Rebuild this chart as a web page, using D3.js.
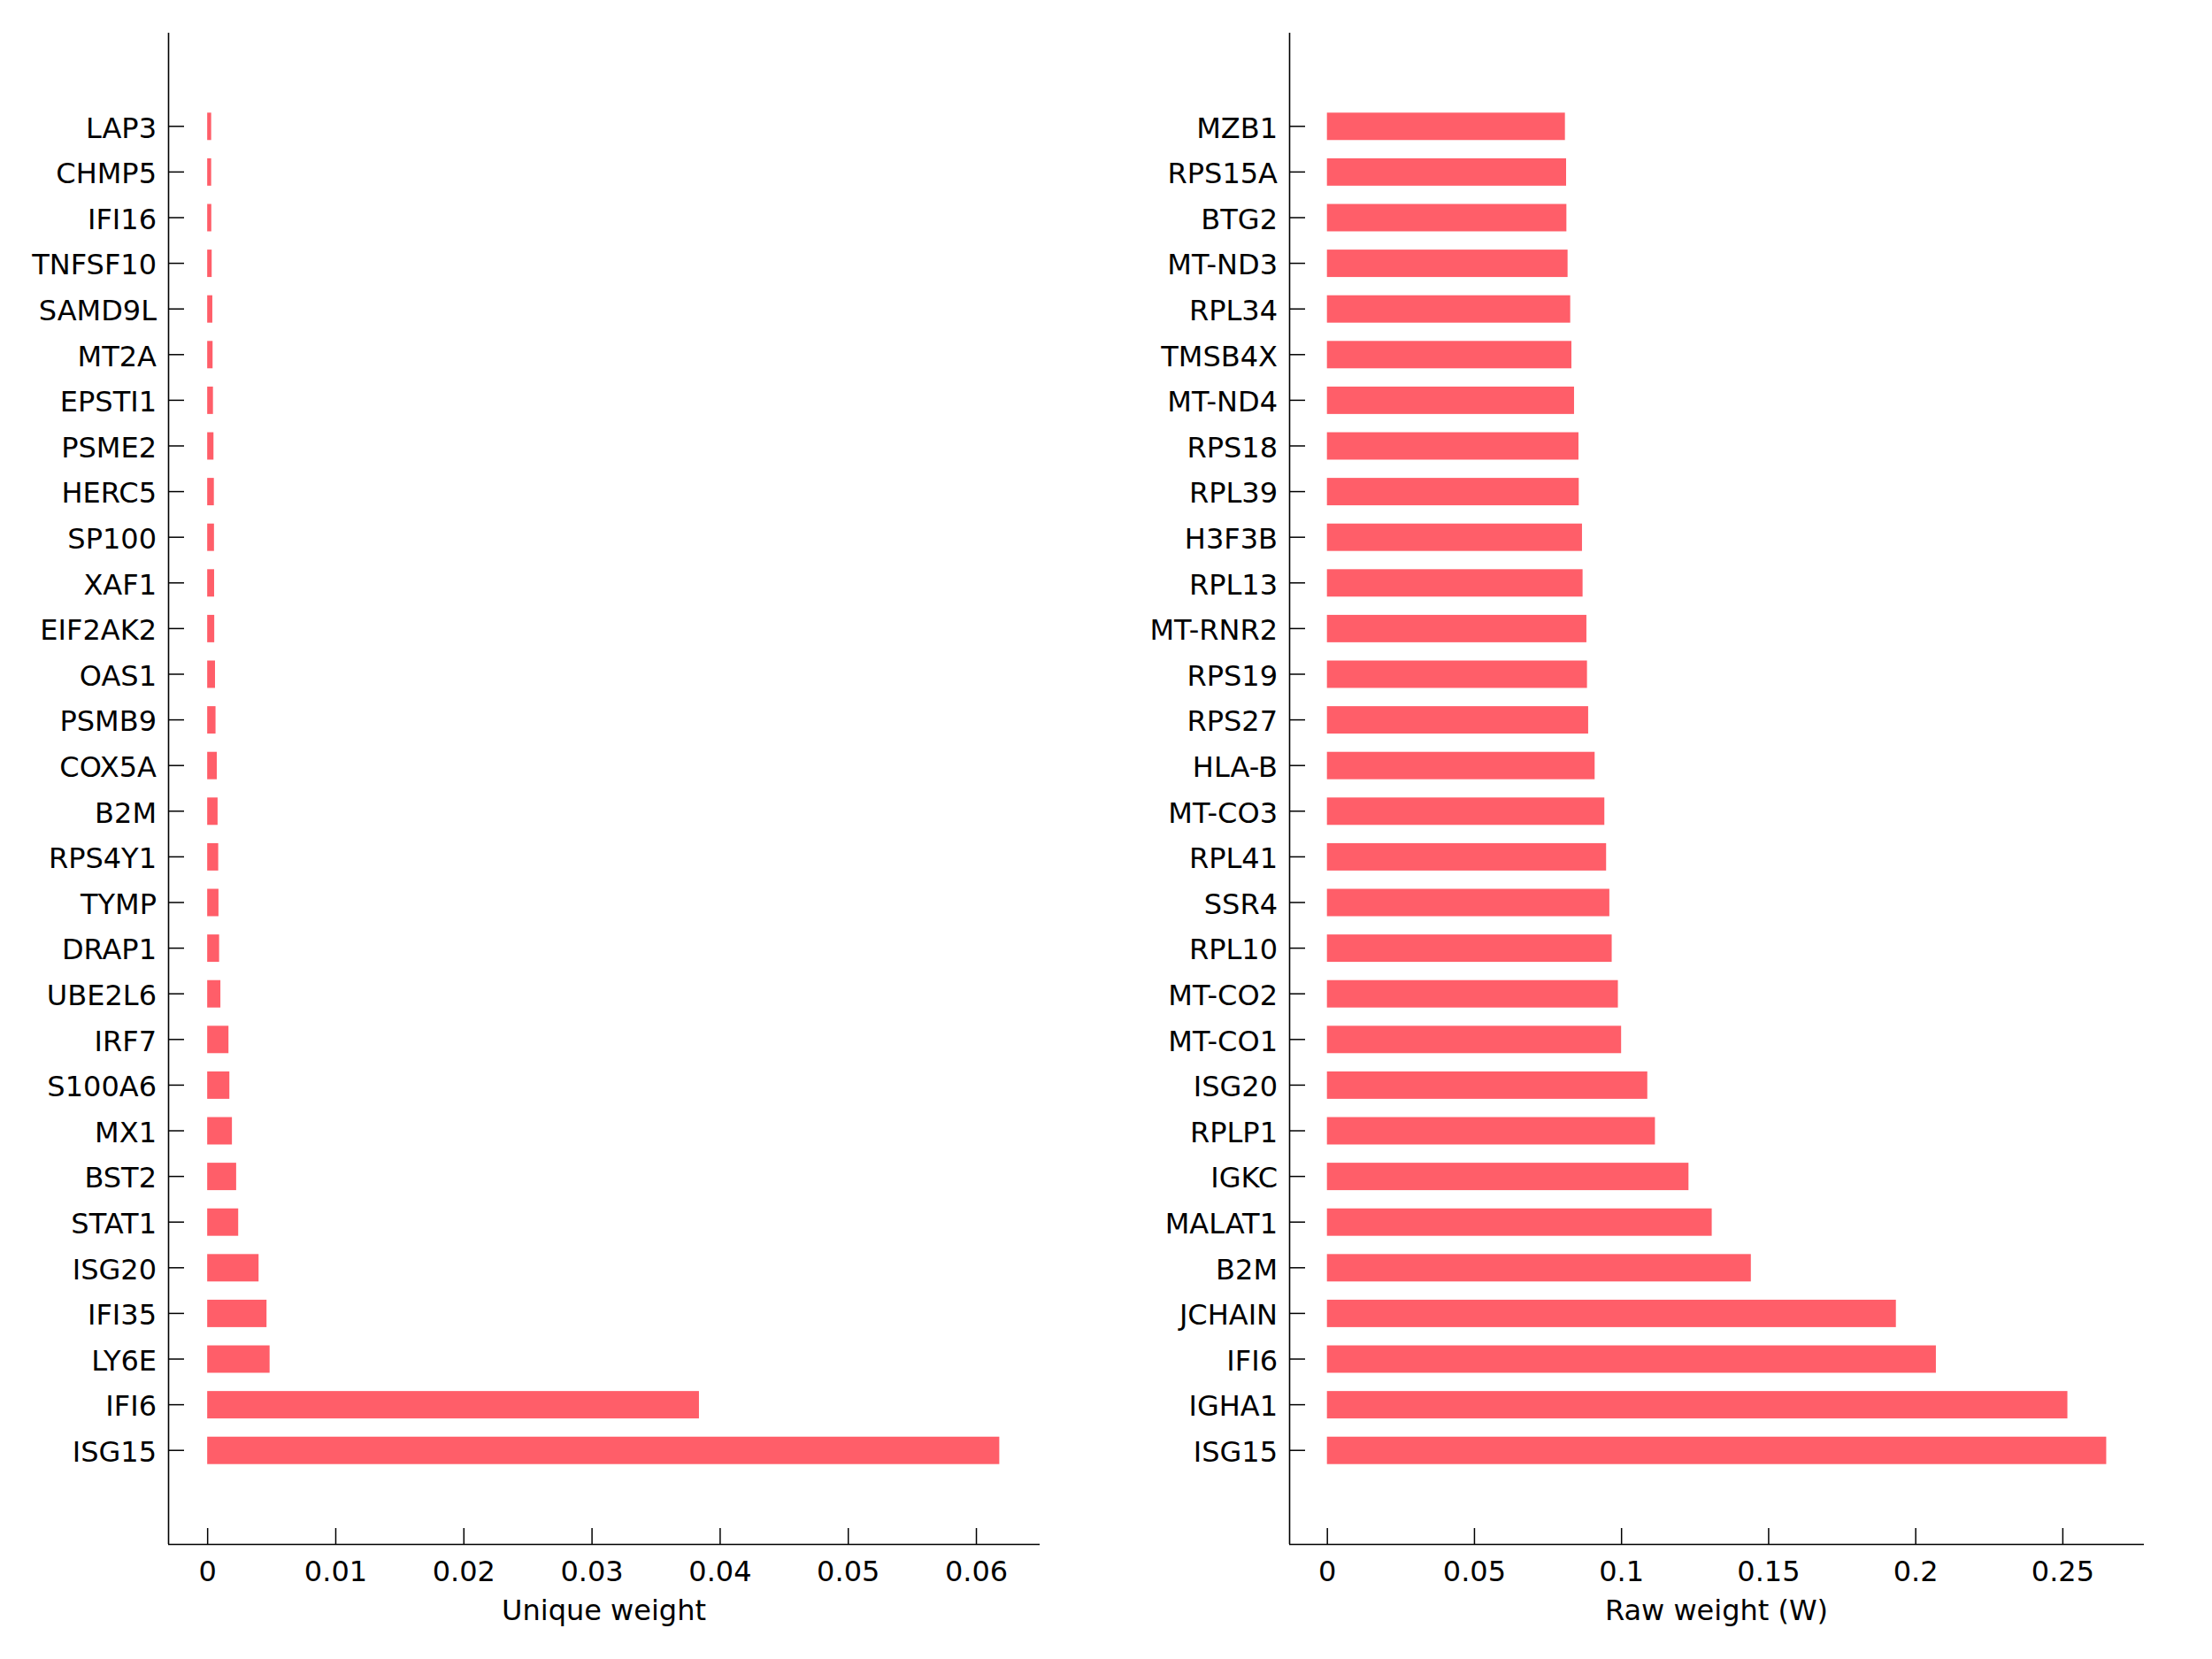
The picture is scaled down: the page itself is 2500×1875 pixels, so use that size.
<!DOCTYPE html>
<html>
<head>
<meta charset="utf-8">
<script src="https://cdn.jsdelivr.net/npm/d3@7"></script>
<style>
  html, body { margin: 0; padding: 0; background: #fff; }
  svg { display: block; }
  text { font-family: "DejaVu Sans", sans-serif; fill: #000; }
</style>
</head>
<body>
<svg id="chart" width="2500" height="1875"></svg>
<script>
// ---------- data ----------
const uniqueGenes = ["LAP3","CHMP5","IFI16","TNFSF10","SAMD9L","MT2A","EPSTI1","PSME2","HERC5","SP100",
  "XAF1","EIF2AK2","OAS1","PSMB9","COX5A","B2M","RPS4Y1","TYMP","DRAP1","UBE2L6",
  "IRF7","S100A6","MX1","BST2","STAT1","ISG20","IFI35","LY6E","IFI6","ISG15"];
const uniqueValues = [0.00031,0.00031,0.00032,0.00035,0.00040,0.00042,0.00045,0.00049,0.00052,0.00053,
  0.00054,0.00055,0.00061,0.00065,0.00075,0.00081,0.00086,0.00088,0.00093,0.00103,
  0.00166,0.00173,0.00193,0.00226,0.00242,0.00401,0.00463,0.00487,0.03838,0.06182];
const uniqueTicks = [0,0.01,0.02,0.03,0.04,0.05,0.06];
const uniqueTickLabels = ["0","0.01","0.02","0.03","0.04","0.05","0.06"];

const rawGenes = ["MZB1","RPS15A","BTG2","MT-ND3","RPL34","TMSB4X","MT-ND4","RPS18","RPL39","H3F3B",
  "RPL13","MT-RNR2","RPS19","RPS27","HLA-B","MT-CO3","RPL41","SSR4","RPL10","MT-CO2",
  "MT-CO1","ISG20","RPLP1","IGKC","MALAT1","B2M","JCHAIN","IFI6","IGHA1","ISG15"];
const rawValues = [0.0809,0.0813,0.0814,0.0818,0.0827,0.0831,0.0840,0.0855,0.0856,0.0867,
  0.0869,0.0882,0.0884,0.0888,0.0910,0.0943,0.0949,0.0960,0.0968,0.0989,
  0.1000,0.1089,0.1115,0.1229,0.1308,0.1441,0.1934,0.2070,0.2517,0.2649];
const rawTicks = [0,0.05,0.1,0.15,0.2,0.25];
const rawTickLabels = ["0","0.05","0.1","0.15","0.2","0.25"];

const xTitles = ["Unique weight", "Raw weight (W)"];

// ---------- drawing ----------
const svg = d3.select("#chart");
const barColor = "#ff5e69";
const fontSize = 32;

function panel(cfg) {
  const g = svg.append("g");
  const x = d3.scaleLinear().domain(cfg.xDomain).range([cfg.left, cfg.right]);
  const y = d3.scaleBand().domain(cfg.genes).range([cfg.top, cfg.bottom])
    .paddingInner(0.4).paddingOuter(1.75);

  g.selectAll("rect.bar").data(cfg.genes.map((d, i) => ({g: d, v: cfg.values[i]})))
    .enter().append("rect")
    .attr("class", "bar")
    .attr("x", d => x(0))
    .attr("y", d => y(d.g))
    .attr("width", d => x(d.v) - x(0))
    .attr("height", y.bandwidth())
    .attr("fill", barColor);

  const yAxis = d3.axisLeft(y).tickSizeInner(-18).tickSizeOuter(0).tickPadding(13);
  const ya = g.append("g").attr("transform", `translate(${cfg.left},0)`).call(yAxis);
  ya.select(".domain").attr("stroke", "#000").attr("stroke-width", 1.6)
    .attr("d", `M0.5,${cfg.top}V${cfg.bottom}`);
  ya.selectAll(".tick line").attr("stroke", "#000").attr("stroke-width", 1.5);
  ya.selectAll(".tick text").attr("font-size", fontSize).attr("font-family", "DejaVu Sans")
    .attr("dy", "0.4em");

  const labelMap = new Map(cfg.ticks.map((t, i) => [t, cfg.tickLabels[i]]));
  const xAxis = d3.axisBottom(x).tickValues(cfg.ticks).tickFormat(t => labelMap.get(t))
    .tickSizeInner(-18).tickSizeOuter(0).tickPadding(19);
  const xa = g.append("g").attr("transform", `translate(0,${cfg.bottom})`).call(xAxis);
  xa.select(".domain").attr("stroke", "#000").attr("stroke-width", 1.6)
    .attr("d", `M${cfg.left},0.5H${cfg.right}`);
  xa.selectAll(".tick line").attr("stroke", "#000").attr("stroke-width", 1.5);
  xa.selectAll(".tick text").attr("font-size", fontSize).attr("font-family", "DejaVu Sans");

  g.append("text")
    .attr("x", (cfg.left + cfg.right) / 2)
    .attr("y", cfg.bottom + 86)
    .attr("text-anchor", "middle")
    .attr("font-size", fontSize)
    .text(cfg.title);
}

panel({
  genes: uniqueGenes, values: uniqueValues,
  ticks: uniqueTicks, tickLabels: uniqueTickLabels,
  xDomain: [-0.00305, 0.06497],
  left: 190, right: 1175, top: 37, bottom: 1745,
  title: xTitles[0]
});

panel({
  genes: rawGenes, values: rawValues,
  ticks: rawTicks, tickLabels: rawTickLabels,
  xDomain: [-0.01284, 0.2777],
  left: 1457, right: 2423, top: 37, bottom: 1745,
  title: xTitles[1]
});
</script>
</body>
</html>
